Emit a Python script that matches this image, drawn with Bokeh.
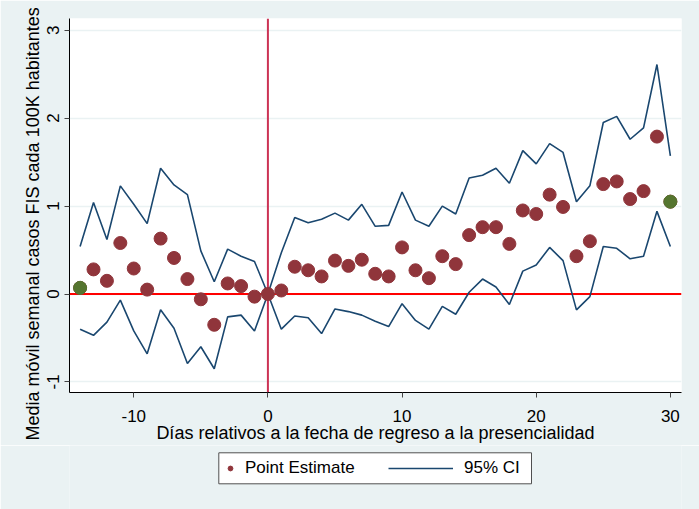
from bokeh.plotting import figure
from bokeh.layouts import column
from bokeh.models import Span, Legend, LegendItem, FixedTicker, Range1d, BoxAnnotation, Title
from bokeh.embed import file_html
from bokeh.resources import INLINE

days = [-14, -13, -12, -11, -10, -9, -8, -7, -6, -5, -4, -3, -2, -1, 0,
        1, 2, 3, 4, 5, 6, 7, 8, 9, 10, 11, 12, 13, 14, 15,
        16, 17, 18, 19, 20, 21, 22, 23, 24, 25, 26, 27, 28, 29, 30]
point_est = [0.07, 0.28, 0.15, 0.58, 0.29, 0.05, 0.63, 0.41, 0.17, -0.06, -0.35, 0.12, 0.09, -0.03, 0.0,
             0.04, 0.31, 0.27, 0.20, 0.38, 0.32, 0.39, 0.23, 0.20, 0.53, 0.27, 0.18, 0.43, 0.34, 0.67,
             0.76, 0.76, 0.57, 0.95, 0.91, 1.13, 0.99, 0.43, 0.60, 1.25, 1.28, 1.08, 1.17, 1.79, 1.05]
ci_upper = [0.54, 1.04, 0.62, 1.23, 1.02, 0.80, 1.43, 1.24, 1.13, 0.49, 0.14, 0.51, 0.43, 0.37, 0.0,
            0.47, 0.87, 0.81, 0.85, 0.92, 0.84, 1.02, 0.77, 0.78, 1.16, 0.84, 0.77, 1.00, 0.91, 1.32,
            1.35, 1.43, 1.26, 1.63, 1.48, 1.71, 1.61, 1.05, 1.23, 1.95, 2.02, 1.76, 1.89, 2.61, 1.57]
ci_lower = [-0.40, -0.47, -0.32, -0.07, -0.42, -0.68, -0.18, -0.39, -0.79, -0.60, -0.85, -0.26, -0.24, -0.42, 0.0,
            -0.40, -0.25, -0.27, -0.45, -0.17, -0.20, -0.24, -0.31, -0.37, -0.11, -0.30, -0.40, -0.14, -0.23, 0.02,
            0.17, 0.08, -0.12, 0.26, 0.33, 0.53, 0.38, -0.18, -0.03, 0.54, 0.52, 0.40, 0.43, 0.94, 0.54]
endpoint_days = [-14, 30]
x_ticks = [-10, 0, 10, 20, 30]
x_tick_labels = ["-10", "0", "10", "20", "30"]
y_ticks = [-1, 0, 1, 2, 3]
y_tick_labels = ["-1", "0", "1", "2", "3"]
legend_labels = ["Point Estimate", "95% CI"]
x_title = "Días relativos a la fecha de regreso a la presencialidad"
y_title = "Media móvil semanal casos FIS cada 100K habitantes"

BG = "#EAF2F3"
NAVY = "#1A476F"
MAROON = "#90353B"
GREEN = "#55752F"
FONT = "Liberation Sans"

p = figure(width=699, height=445, output_backend="svg", toolbar_location=None,
           x_range=Range1d(-14.79, 30.83), y_range=Range1d(-1.12, 3.133),
           min_border_left=69, min_border_right=18, min_border_top=18, min_border_bottom=51)
p.background_fill_color = "white"
p.border_fill_color = BG
p.outline_line_color = None

p.xgrid.grid_line_color = None
p.ygrid.grid_line_color = BG
p.ygrid.grid_line_width = 1.5
p.ygrid.ticker = FixedTicker(ticks=y_ticks)

for ax in (p.xaxis[0], p.yaxis[0]):
    ax.axis_line_color = "black"
    ax.axis_line_width = 1
    ax.major_tick_line_color = "#444444"
    ax.major_tick_out = 5
    ax.major_tick_in = 0
    ax.minor_tick_line_color = None
    ax.major_label_text_font = FONT
    ax.major_label_text_font_size = "17px"
    ax.major_label_text_color = "black"
    ax.axis_label_text_font = FONT
    ax.axis_label_text_font_style = "normal"
    ax.axis_label_text_color = "black"

p.xaxis.ticker = FixedTicker(ticks=x_ticks)
p.yaxis.ticker = FixedTicker(ticks=y_ticks)
p.xaxis.major_label_overrides = dict(zip(x_ticks, x_tick_labels))
p.yaxis.major_label_overrides = dict(zip(y_ticks, y_tick_labels))
p.xaxis.axis_label = x_title
p.xaxis.axis_label_text_font_size = "18px"
p.yaxis.major_label_orientation = "vertical"
p.xaxis.major_label_standoff = 12
p.xaxis.axis_label_standoff = -2
p.yaxis.major_label_standoff = 5

# y-axis title as a left-side title so it can sit lower than the frame centre, as in the reference
ytitle = Title(text=y_title, align="left", offset=-48, standoff=3,
               text_font=FONT, text_font_size="18px", text_font_style="normal",
               text_color="black")
p.add_layout(ytitle, "left")

p.add_layout(Span(location=0, dimension="width", line_color="#FF0000", line_width=2, level="underlay"))
p.add_layout(Span(location=0, dimension="height", line_color="#CC3355", line_width=2, level="underlay"))

upper = p.line(days, ci_upper, line_color=NAVY, line_width=1.6)
lower = p.line(days, ci_lower, line_color=NAVY, line_width=1.6)
pts = p.scatter(days, point_est, size=13, fill_color=MAROON, line_color=MAROON)
end_x = [d for d in days if d in endpoint_days]
end_y = [v for d, v in zip(days, point_est) if d in endpoint_days]
p.scatter(end_x, end_y, size=13, fill_color=GREEN, line_color=GREEN)

# legend strip below the plot; its frame lines up with the plot's frame (x in page pixels)
q = figure(width=699, height=64, output_backend="svg", toolbar_location=None,
           x_range=Range1d(69, 681), y_range=Range1d(0, 64),
           x_axis_type=None, y_axis_type=None,
           min_border_left=69, min_border_right=18, min_border_top=0, min_border_bottom=0)
q.background_fill_color = BG
q.border_fill_color = BG
q.outline_line_color = None
q.xgrid.grid_line_color = None
q.ygrid.grid_line_color = None

q.add_layout(BoxAnnotation(left=218.3, right=531, bottom=25.7, top=56.7,
                           fill_color="white", fill_alpha=1,
                           line_color="#505050", line_width=1, line_alpha=1))

# legend key glyphs (kept outside the visible strip range)
leg_pts = q.scatter([0], [0], size=11, fill_color=MAROON, line_color=MAROON)
leg_line = q.line([0, 1], [0, 0], line_color=NAVY, line_width=1.6)

def make_legend(label, rend, loc, gw, standoff):
    lg = Legend(items=[LegendItem(label=label, renderers=[rend])], location=loc)
    lg.label_text_font = FONT
    lg.label_text_font_size = "17px"
    lg.label_text_color = "black"
    lg.border_line_color = None
    lg.background_fill_alpha = 0
    lg.glyph_width = gw
    lg.glyph_height = 20
    lg.label_height = 20
    lg.label_standoff = standoff
    lg.padding = 0
    lg.margin = 0
    return lg

q.add_layout(make_legend(legend_labels[0], leg_pts, (224 - 69, 31), 12, 9), "center")
q.add_layout(make_legend(legend_labels[1], leg_line, (388 - 69, 31), 65, 11), "center")

layout = column(p, q, spacing=0)
open("out.html", "w").write(file_html(layout, INLINE))
